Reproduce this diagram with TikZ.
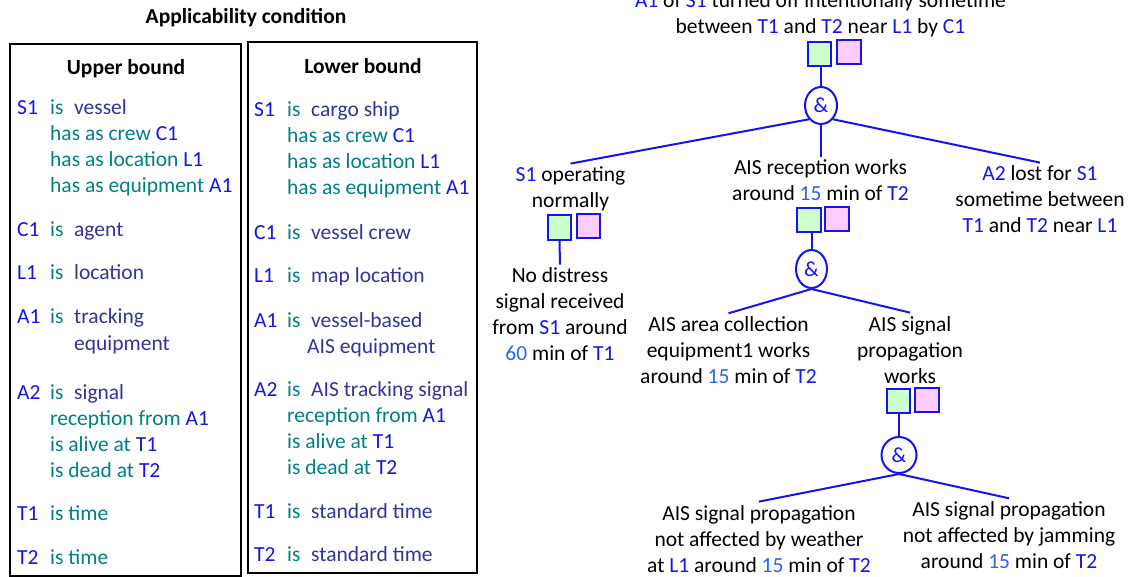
\documentclass[tikz,border=0pt]{standalone}
\usepackage{fontspec}
\setmainfont{Carlito}
\usetikzlibrary{shapes.geometric}
\definecolor{idb}{RGB}{20,20,235}
\definecolor{numb}{RGB}{40,100,240}
\definecolor{tealc}{RGB}{0,128,128}
\definecolor{indc}{RGB}{51,51,153}
\definecolor{lineb}{RGB}{20,20,240}
\definecolor{gfill}{RGB}{204,255,204}
\definecolor{pfill}{RGB}{255,204,255}
\newcommand\cid[1]{\textcolor{idb}{#1}}
\newcommand\cnum[1]{\textcolor{numb}{#1}}
\newcommand\ctl[1]{\textcolor{tealc}{#1}}
\newcommand\cin[1]{\textcolor{indc}{#1}}
\newcommand\ents[1]{\begin{tabular}[t]{@{}p{33pt}@{}p{24pt}@{}l@{}}#1\end{tabular}}
\newcommand\cont[1]{& \multicolumn{2}{@{}l@{}}{#1}}
\newcommand\stmtlines[1]{\begin{tabular}[t]{@{}c@{}}#1\end{tabular}}
\begin{document}
\begin{tikzpicture}[x=1pt,y=-1pt,
  stmt/.style={inner sep=0pt, anchor=base, font=\fontsize{21.5}{26}\selectfont},
  entry/.style={inner sep=0pt, anchor=base west, font=\fontsize{21.5}{26}\selectfont},
  head/.style={inner sep=0pt, anchor=base, font=\fontsize{21.5}{26}\selectfont\bfseries},
  gbox/.style={draw=lineb, line width=2pt, fill=gfill, minimum width=23.5pt, minimum height=24.5pt, inner sep=0pt},
  pbox/.style={draw=lineb, line width=2pt, fill=pfill, minimum width=23.5pt, minimum height=24.5pt, inner sep=0pt},
  andg/.style={ellipse, draw=lineb, line width=2pt, inner sep=0pt, text=idb, font=\fontsize{21.5}{26}\selectfont},
  conn/.style={draw=lineb, line width=2pt},
  panel/.style={draw=black, line width=2pt, inner sep=0pt, anchor=north west}
]
\useasboundingbox (0,0) rectangle (1130,577);

% ---------- left panels ----------
\node[head] (title) at (246,23.5) {Applicability condition};
\node[panel, minimum width=231pt, minimum height=532pt] (upanel) at (9,43) {};
\node[panel, minimum width=229pt, minimum height=531pt] (lpanel) at (247,41) {};
\node[head] (ubh) at (126,75) {Upper bound};
\node[head] (lbh) at (363,74) {Lower bound};

\node[entry] (u1) at (17,115) {\ents{\cid{S1} & \ctl{is} & \cin{vessel}\\
  \cont{\ctl{has as crew} \cid{C1}}\\
  \cont{\ctl{has as location} \cid{L1}}\\
  \cont{\ctl{has as equipment} \cid{A1}}}};
\node[entry] (u2) at (17,237) {\ents{\cid{C1} & \ctl{is} & \cin{agent}}};
\node[entry] (u3) at (17,280) {\ents{\cid{L1} & \ctl{is} & \cin{location}}};
\node[entry] (u4) at (17,324) {\ents{\cid{A1} & \ctl{is} & \cin{tracking}\\ & & \cin{equipment}}};
\node[entry] (u5) at (17,399) {\ents{\cid{A2} & \ctl{is} & \cin{signal}\\
  \cont{\ctl{reception from} \cid{A1}}\\
  \cont{\ctl{is alive at} \cid{T1}}\\
  \cont{\ctl{is dead at} \cid{T2}}}};
\node[entry] (u6) at (17,520) {\ents{\cid{T1} & \multicolumn{2}{@{}l@{}}{\ctl{is time}}}};
\node[entry] (u7) at (17,564) {\ents{\cid{T2} & \multicolumn{2}{@{}l@{}}{\ctl{is time}}}};

\node[entry] (l1) at (254,117) {\ents{\cid{S1} & \ctl{is} & \cin{cargo ship}\\
  \cont{\ctl{has as crew} \cid{C1}}\\
  \cont{\ctl{has as location} \cid{L1}}\\
  \cont{\ctl{has as equipment} \cid{A1}}}};
\node[entry] (l2) at (254,240) {\ents{\cid{C1} & \ctl{is} & \cin{vessel crew}}};
\node[entry] (l3) at (254,283) {\ents{\cid{L1} & \ctl{is} & \cin{map location}}};
\node[entry] (l4) at (254,327) {\ents{\cid{A1} & \ctl{is} & \cin{vessel-based}\\ & & \hspace*{-4pt}\cin{AIS equipment}}};
\node[entry] (l5) at (254,396) {\ents{\cid{A2} & \ctl{is} & \cin{AIS tracking signal}\\
  \cont{\ctl{reception from} \cid{A1}}\\
  \cont{\ctl{is alive at} \cid{T1}}\\
  \cont{\ctl{is dead at} \cid{T2}}}};
\node[entry] (l6) at (254,518) {\ents{\cid{T1} & \ctl{is} & \cin{standard time}}};
\node[entry] (l7) at (254,561) {\ents{\cid{T2} & \ctl{is} & \cin{standard time}}};

% ---------- tree ----------
\node[stmt] (top) at (820.5,8) {\stmtlines{\cid{A1} of \cid{S1} turned off intentionally sometime\\
  between \cid{T1} and \cid{T2} near \cid{L1} by \cid{C1}}};
\node[gbox] (g1) at (819.5,54) {};
\node[pbox] (p1) at (849,52) {};
\node[andg, minimum width=32pt, minimum height=37pt] (and1) at (821,105.5) {\&};

\node[stmt] (c1) at (570.5,182) {\stmtlines{\cid{S1} operating\\normally}};
\node[stmt] (c2) at (820.5,175) {\stmtlines{AIS reception works\\around \cnum{15} min of \cid{T2}}};
\node[stmt] (c3) at (1040,181) {\stmtlines{\cid{A2} lost for \cid{S1}\\sometime between\\\cid{T1} and \cid{T2} near \cid{L1}}};

\node[gbox] (g2) at (559.5,227.5) {};
\node[pbox] (p2) at (588.5,226) {};
\node[stmt] (d1) at (560,283) {\stmtlines{No distress\\signal received\\from \cid{S1} around\\\cnum{60} min of \cid{T1}}};

\node[gbox] (g3) at (809,220) {};
\node[pbox] (p3) at (837,219) {};
\node[andg, minimum width=31pt, minimum height=38pt] (and2) at (811.5,269) {\&};
\node[stmt] (c2a) at (728.5,331.7) {\stmtlines{AIS area collection\\equipment1 works\\around \cnum{15} min of \cid{T2}}};
\node[stmt] (c2b) at (910,331) {\stmtlines{AIS signal\\propagation\\works}};

\node[gbox] (g4) at (898.5,401) {};
\node[pbox] (p4) at (927,400) {};
\node[andg, minimum width=35pt, minimum height=36pt] (and3) at (899,455) {\&};
\node[stmt] (c3a) at (759,520) {\stmtlines{AIS signal propagation\\not affected by weather\\at \cid{L1} around \cnum{15} min of \cid{T2}}};
\node[stmt] (c3b) at (1009,516.7) {\stmtlines{AIS signal propagation\\not affected by jamming\\around \cnum{15} min of \cid{T2}}};

\draw[conn] (and1.north) -- (and1.north |- g1.south);
\draw[conn] (and1.south west) -- (c1.north);
\draw[conn] (and1.south) -- (and1.south |- c2.north);
\draw[conn] (and1.south east) -- (c3.north);
\draw[conn] (g2.south) -- (d1.north);
\draw[conn] (and2.north) -- (and2.north |- g3.south);
\draw[conn] (and2.south) -- (c2a.north);
\draw[conn] (and2.south) -- (c2b.north);
\draw[conn] (and3.north) -- (and3.north |- g4.south);
\draw[conn] (and3.south) -- (c3a.north);
\draw[conn] (and3.south) -- (c3b.north);
\end{tikzpicture}
\end{document}
